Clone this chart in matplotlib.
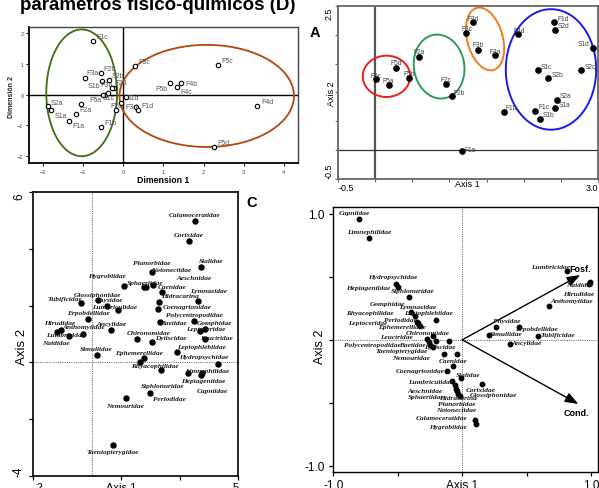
import numpy as np
import matplotlib
matplotlib.use("Agg")
import matplotlib.pyplot as plt

W, H = 599, 489
plt.rcParams['font.family'] = ['Liberation Sans', 'DejaVu Sans']

# ---- D: sites on physico-chemical dimensions ----
d_sites = ["F1c", "F2b", "F3a", "S2b", "F3b", "S1b", "F2d", "S2d", "S1c", "F5a", "F2a", "S2a", "S1a", "S2c",
           "F1a", "F1b", "F2c", "S1d", "F4a", "F3d", "F1d", "F3c", "F5c", "F4b", "F5b", "F4c", "F4d", "F5d"]
d_dim1 = [-0.75, -0.56, -0.95, -0.34, -0.52, -0.46, -0.22, -0.28, -0.37, -0.49, -1.04, -1.86, -1.80, -1.16,
          -1.35, -0.56, -0.18, 0.07, -0.05, 0.31, 0.36, 0.29, 2.35, 1.43, 1.17, 1.33, 3.33, 2.27]
d_dim2 = [1.76, 0.69, 0.55, 0.48, 0.46, 0.00, 0.22, 0.22, 0.07, 0.00, -0.30, -0.38, -0.49, -0.64,
          -0.84, -1.06, -0.51, -0.08, -0.28, -0.41, -0.50, 0.94, 0.95, 0.38, 0.38, 0.25, -0.38, -1.71]
d_group_center = [(-1.03, 0.06), (2.08, -0.04)]
d_group_radius = [(0.88, 2.06), (2.17, 1.66)]

# ---- A: sites on axes 1-2 ----
a_sites = ["F5c", "F5a", "F5d", "F5b", "F2a", "F2c", "F2b", "F1a", "F3d", "F3c", "F3b", "F3a", "F1b", "F4d",
           "F1d", "S2d", "S1d", "S1c", "S2c", "S2b", "S2a", "S1a", "F1c", "S1b"]
a_axis1 = [0.01, 0.18, 0.28, 0.46, 0.59, 0.95, 1.04, 1.17, 1.32, 1.22, 1.39, 1.62, 1.73, 1.93,
           2.41, 2.42, 2.93, 2.19, 2.78, 2.33, 2.45, 2.43, 2.16, 2.22]
a_axis2 = [1.23, 1.13, 1.43, 1.25, 1.62, 1.15, 0.93, -0.02, 2.23, 2.03, 1.74, 1.65, 0.65, 2.01,
           2.23, 2.08, 1.77, 1.39, 1.39, 1.25, 0.87, 0.72, 0.68, 0.54]
a_group_center = [(0.15, 1.28), (0.86, 1.45), (1.48, 1.93), (2.37, 1.40)]
a_group_radius = [(0.32, 0.36), (0.34, 0.56), (0.24, 0.56), (0.61, 1.05)]
a_group_tilt = [0, 9, 15, 0]

# ---- C: taxa on axes 1-2 ----
c_taxa = ["Calamoceratidae", "Corixidae", "Sialidae", "Planorbidae", "Notonectidae", "Hygrobiidae",
          "Sphaeriidae", "Aeschnidae", "Caenidae", "Lymnaeidae", "Hidracarina", "Glossiphonidae", "Physidae",
          "Tubificidae", "Lumbriculidae", "Coenagrionidae", "Erpobdellidae", "Polycentropodidae", "Gomphidae",
          "Baetidae", "Ancylidae", "Hirudidae", "Anthomyiidae", "Leptoceridae", "Lumbricidae", "Naididae",
          "Chironomidae", "Leuctridae", "Dytiscidae", "Leptophlebiidae", "Simuliidae", "Ephemerellidae",
          "Hydropsychidae", "Rhyacophilidae", "Limnephilidae", "Heptageniidae", "Capniidae", "Siphlonuridae",
          "Perlodidae", "Nemouridae", "Taeniopterygidae"]
c_axis1 = [3.52, 3.32, 3.71, 2.04, 2.08, 1.11, 1.79, 1.85, 2.39, 3.61, 2.28, 0.22, 0.53, -0.36, 0.90, 2.26,
           -0.12, 3.50, 3.70, 2.31, 0.67, -1.04, -0.29, 3.86, -0.78, -1.18, 1.53, 3.86, 2.04, 2.89, 0.17,
           1.79, 4.31, 1.63, 3.75, 3.72, 3.29, 2.36, 1.99, 1.15, 0.71]
c_axis2 = [4.98, 4.29, 3.38, 3.18, 2.74, 2.69, 2.65, 2.65, 2.48, 2.17, 2.13, 2.21, 1.98, 2.08, 1.84, 1.87,
           1.54, 1.45, 1.09, 1.44, 1.14, 1.13, 1.01, 1.18, 0.94, 1.07, 0.82, 0.84, 0.72, 0.35, 0.27,
           0.14, -0.06, 0.01, -0.38, -0.44, -0.39, -0.27, -1.07, -1.27, -2.91]

# ---- B: taxa with environmental vectors ----
b_taxa = ["Capniidae", "Limnephilidae", "Lumbricidae", "Hirudidae", "Naididae", "Anthomyiidae", "Physidae",
          "Simuliidae", "Erpobdellidae", "Tubificidae", "Ancylidae", "Hydropsychidae", "Heptageniidae",
          "Siphlonuridae", "Gomphidae", "Lymnaeidae", "Rhyacophilidae", "Leptoceridae", "Perlodidae",
          "Leptophlebiidae", "Ephemerellidae", "Chironomidae", "Leuctridae", "Polycentropodidae", "Baetidae",
          "Dytiscidae", "Taeniopterygidae", "Nemouridae", "Caenidae", "Coenagrionidae", "Sialidae",
          "Glossiphonidae", "Lumbriculidae", "Corixidae", "Aeschnidae", "Sphaeriidae", "Hidracarina",
          "Planorbidae", "Notonectidae", "Calamoceratidae", "Hygrobiidae"]
b_axis1 = [-0.80, -0.72, 0.81, 0.99, 0.98, 0.67, 0.26, 0.21, 0.44, 0.59, 0.37, -0.51, -0.50, -0.41, -0.40,
           -0.37, -0.35, -0.34, -0.33, -0.20, -0.27, -0.23, -0.26, -0.25, -0.23, -0.20, -0.10, -0.14, -0.04,
           -0.12, -0.07, 0.15, -0.08, -0.01, -0.06, -0.05, -0.04, -0.03, -0.02, 0.10, 0.11]
b_axis2 = [0.96, 0.81, 0.55, 0.46, 0.44, 0.27, 0.10, 0.04, 0.10, 0.03, -0.03, 0.44, 0.42, 0.34, 0.22,
           0.19, 0.14, 0.13, 0.11, 0.16, 0.01, 0.03, -0.02, -0.04, -0.06, -0.01, -0.01, -0.11, -0.11,
           -0.25, -0.21, -0.35, -0.33, -0.30, -0.36, -0.39, -0.41, -0.43, -0.45, -0.64, -0.67]
env_names = ["Fosf.", "Cond."]
env_axis1 = [0.915, 0.90]
env_axis2 = [0.515, -0.51]

# label placement, pixels from the point (x right, y up); None = no label
d_lab_off = [(9.4, 4.4), (9.2, 4.7), (7.9, 5), (8.8, 4), (4.6, -3.6), (-10.6, 8.7), (6.5, 5.3), None,
             (0.8, -5.3), (-7.7, -4.7), (4.2, -5.7), (9, 4), (9.7, -5.6), None, (10.1, -5.3), (10.1, 5),
             (0, 4.4), (7, 0), None, (-4, 0.5), (9.7, 4.3), (9.5, 4.3), (9.9, 4.7), (10.4, 0), (-8.5, -5.7),
             (9.9, -4), (10, 5), (9.3, 4.7)]
a_lab_off = [(-0.5, 4), (-0.2, 4), (0.2, 5), (0.3, 4.3), (0.2, 5.3), (0.2, 4.7), (6.5, 4.3), (8, 1.3),
             (-0.3, 3.7), (0.7, 4.3), (0.3, 5), (-0.3, 3.7), (8, 4.7), (0.3, 4.3), (8.8, 3.7), (9.2, 5),
             (-9.2, 4.3), (9, 3.7), (8.8, 3.7), (9.2, 3.3), (8.7, 4), (9, 4.3), (8.2, 4), (8.3, 4)]
c_lab_off = [(0, 6.7), (0, 6), (11, 6), (-0.3, 9.7), (18.7, 15.3), (-17, 11), (0.7, 5), (48, 9.7),
             (10.7, 5.7), (11, 10.3), (21.3, 6.3), (-0.7, 5.7), (1.3, 6.3), (-16.3, 5), (-3.7, 4), (29, 3),
             (0, 6.3), (0, 6.7), (14.7, 9), (14, -1.3), (0, 6.7), (-1.3, 8), (0, 7.3), (1, 0), (-3.3, 1.7),
             (-1, -10.3), (11.7, 6.7), (11.7, 1.3), (18.7, 4), (25, 5.7), (-0.3, 5.7), (-5, 6), (-14.7, 7.7),
             (15.7, -3.7), (5, 3), (2.7, -5.3), (23.7, -16.7), (1.7, -15.7), (19.3, -6.3), (-0.3, -7.3),
             (0.3, -7)]
b_lab_off = [(-4.3, 6.7), (-0.3, 6.3), (-15.7, 4.3), (-11.7, -11.3), (-8.3, 0), (23, 5.3), (10.7, 7),
             (17, 1.7), (17.3, -1.7), (19.3, 2), (17, 1.3), (-3.7, 8.3), (-29.3, -0.3), (3.7, 6.3),
             (-22.7, 8.7), (3, 9), (-47.7, 9.3), (-51, 1), (-19.7, 6.7), (-7.7, 6.7), (-25, 11.7),
             (-5.3, 3.3), (-32.7, 5.7), (-57.7, 0.7), (-20.7, 3.3), (3.7, -5.7), (-47.3, -9.7),
             (-33.7, -4.3), (-4.3, -7), (-26.7, 0.7), (15, -8.3), (12.3, -11), (-21.7, 0), (19.3, -11.7),
             (-30, -5.3), (-29.7, -8), (0.7, -6), (-1.3, -9.3), (-3.3, -13.3), (-33.7, 3.3), (-28.3, -2.7)]
env_lab_off = [(0.3, 6.7), (-2.3, -8.3)]

fig = plt.figure(figsize=(W / 100, H / 100), dpi=100)


def add_px_axes(l, t, r, b):
    return fig.add_axes([l / W, 1 - b / H, (r - l) / W, (b - t) / H])


def ftext(px, py, s, **kw):
    fig.text(px / W, 1 - py / H, s, **kw)


def label_points(ax, xs, ys, names, offs, **kw):
    for x, y, n, o in zip(xs, ys, names, offs):
        if o is None:
            continue
        ax.annotate(n, (x, y), xytext=o, textcoords='offset pixels', ha='center', va='center', **kw)


def draw_ellipse(ax, center, radius, color, lw, tilt=0):
    # radius in data units, tilt measured on screen
    x0, x1 = ax.get_xlim()
    y0, y1 = ax.get_ylim()
    bb = ax.get_position()
    sx = bb.width * W / (x1 - x0)
    sy = bb.height * H / (y1 - y0)
    t = np.linspace(0, 2 * np.pi, 240)
    u = radius[0] * sx * np.cos(t)
    v = radius[1] * sy * np.sin(t)
    a = np.radians(tilt)
    pu = u * np.cos(a) - v * np.sin(a)
    pv = u * np.sin(a) + v * np.cos(a)
    ax.plot(center[0] + pu / sx, center[1] + pv / sy, color=color, lw=lw, zorder=2)


# ---------------- panel D ----------------
axd = add_px_axes(29, 28, 298, 164)
axd.set_xlim(-2.34, 4.35)
axd.set_ylim(-2.22, 2.2)
axd.axhline(0, color='black', lw=1.0, zorder=1)
axd.axvline(0, color='black', lw=1.0, zorder=1)
for c, r, col in zip(d_group_center, d_group_radius, ['#3e6e12', '#b4450f']):
    draw_ellipse(axd, c, r, col, 1.3)
axd.plot(d_dim1, d_dim2, 'o', ms=3.2, mfc='white', mec='black', mew=0.8, zorder=3)
label_points(axd, d_dim1, d_dim2, d_sites, d_lab_off, fontsize=5, color='#555555')
axd.set_xticks(range(-2, 5))
axd.set_yticks(range(-2, 3))
axd.tick_params(labelsize=4, length=2.5, width=0.7, pad=1.5, labelcolor='#444444')
for s in axd.spines.values():
    s.set_color('#444444')
    s.set_linewidth(1.0)
axd.spines['left'].set_color('black')
axd.spines['bottom'].set_color('black')
axd.spines['left'].set_linewidth(1.3)
axd.spines['bottom'].set_linewidth(1.3)
ftext(163, 181, 'Dimension 1', fontsize=6.3, fontweight='bold', ha='center', va='center')
ftext(11.5, 97, 'Dimensión 2', fontsize=5, fontweight='bold', rotation=90, ha='center', va='center',
      color='#222222')
ftext(158, 10.3, 'parametros fisico-quimicos (D)', fontsize=13.5, fontweight='bold', ha='center',
      va='baseline')

# ---------------- panel A ----------------
axa = add_px_axes(338.3, 7.3, 597.7, 179.5)
axa.set_xlim(-0.5, 3.0)
axa.set_ylim(-0.5, 2.5)
axa.axvline(0, color='#555555', lw=1.6, zorder=1)
axa.axhline(0, color='#333333', lw=0.9, zorder=1)
for c, r, t, col in zip(a_group_center, a_group_radius, a_group_tilt,
                        ['#ee1c1c', '#2e9a5e', '#f27c1e', '#1a1aee']):
    draw_ellipse(axa, c, r, col, 1.4, tilt=t)
axa.plot(a_axis1, a_axis2, 'o', ms=3.8, color='black', zorder=3)
label_points(axa, a_axis1, a_axis2, a_sites, a_lab_off, fontsize=4.8, color='#444444')
for s in axa.spines.values():
    s.set_color('#666666')
    s.set_linewidth(1.3)
xt = np.arange(-0.5, 3.01, 0.5)
axa.set_xticks(xt)
axa.set_xticklabels(['-0.5'] + [''] * (len(xt) - 2) + ['3.0'])
yt = np.arange(-0.5, 2.51, 0.5)
axa.set_yticks(yt)
axa.set_yticklabels(['-0.5'] + [''] * (len(yt) - 2) + ['2.5'], rotation=90)
axa.tick_params(labelsize=6.5, length=2.5, width=0.8, pad=1.0, color='#666666')
xl = axa.get_xticklabels()
xl[0].set_ha('left')
xl[-1].set_ha('right')
yl = axa.get_yticklabels()
yl[0].set_va('bottom')
yl[-1].set_va('top')
ftext(467, 185, 'Axis 1', fontsize=6.5, ha='center', va='center')
ftext(331, 94, 'Axis 2', fontsize=6.5, rotation=90, ha='center', va='center')
ftext(314.7, 33.3, 'A', fontsize=10.5, fontweight='bold', ha='center', va='center')

taxon_font = dict(fontsize=5.3, family='Liberation Serif', fontweight='bold', fontstyle='italic',
                  color='#1a1a1a')

# ---------------- panel C ----------------
axc = add_px_axes(33.3, 193.3, 238.3, 476.7)
axc.set_xlim(-2, 5)
axc.set_ylim(-4, 6)
axc.axhline(0, color='#777777', lw=0.8, ls=(0, (1, 1)), zorder=1)
axc.axvline(0, color='#777777', lw=0.8, ls=(0, (1, 1)), zorder=1)
axc.plot(c_axis1, c_axis2, 'o', ms=3.6, color='black', zorder=3)
label_points(axc, c_axis1, c_axis2, c_taxa, c_lab_off, **taxon_font)
for s in axc.spines.values():
    s.set_color('black')
    s.set_linewidth(1.2)
axc.set_xticks([-2, 1, 3, 5])
axc.set_xticklabels(['-2', 'Axis 1', '', '5'])
axc.set_yticks([-4, -2, 0, 2, 4, 6])
axc.set_yticklabels(['-4', '', '', '', '', '6'], rotation=90)
axc.tick_params(axis='x', labelsize=8, length=3, width=0.9, pad=1.5)
axc.tick_params(axis='y', labelsize=8.5, length=3, width=0.9, pad=3)
xl = axc.get_xticklabels()
xl[0].set_ha('left')
xl[-1].set_ha('right')
yl = axc.get_yticklabels()
yl[0].set_va('bottom')
yl[-1].set_va('top')
ftext(21.7, 346.7, 'Axis 2', fontsize=9.5, rotation=90, ha='center', va='center')
ftext(252, 203, 'C', fontsize=10.5, fontweight='bold', ha='center', va='center')

# ---------------- panel B ----------------
axb = add_px_axes(333.3, 208.3, 597.7, 473.3)
axb.set_xlim(-1.0, 1.05)
axb.set_ylim(-1.053, 1.053)
axb.axhline(0, color='#777777', lw=0.8, ls=(0, (1, 1)), zorder=1)
axb.axvline(0, color='#777777', lw=0.8, ls=(0, (1, 1)), zorder=1)
for ex, ey in zip(env_axis1, env_axis2):
    axb.annotate('', xy=(ex, ey), xytext=(0, 0),
                 arrowprops=dict(arrowstyle='-|>,head_length=0.8,head_width=0.3', color='black',
                                 lw=1.0, mutation_scale=10, shrinkA=0, shrinkB=0), zorder=2)
label_points(axb, env_axis1, env_axis2, env_names, env_lab_off, fontsize=6.5, fontweight='bold')
axb.plot(b_axis1, b_axis2, 'o', ms=3.2, color='black', zorder=3)
label_points(axb, b_axis1, b_axis2, b_taxa, b_lab_off, **taxon_font)
for s in axb.spines.values():
    s.set_color('black')
    s.set_linewidth(1.0)
axb.set_xticks([-1, -0.5, 0, 0.5, 1])
axb.set_xticklabels(['-1.0', '', 'Axis 1', '', '1.0'])
axb.set_yticks([-1, -0.5, 0, 0.5, 1])
axb.set_yticklabels(['-1.0', '', '', '', '1.0'])
axb.tick_params(labelsize=8.5, length=3, width=0.9, pad=1.5)
axb.tick_params(axis='y', pad=3)
ftext(320, 346.7, 'Axis 2', fontsize=9, rotation=90, ha='center', va='center')

fig.savefig('out.png', dpi=100)
